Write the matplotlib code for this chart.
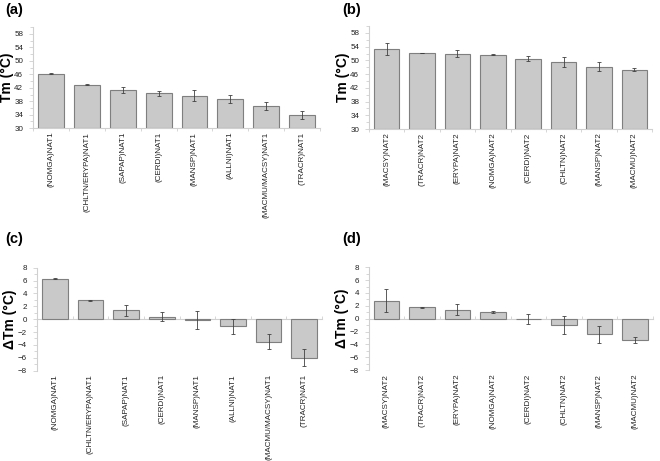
import matplotlib
matplotlib.use("Agg")
import matplotlib.pyplot as plt
from matplotlib.ticker import NullFormatter
import numpy as np

plt.rcParams['font.family'] = ['Liberation Sans', 'DejaVu Sans']

# Datos de los cuatro paneles
nat1_labels = ['(NOMGA)NAT1', '(CHLTN/ERYPA)NAT1', '(SAPAP)NAT1', '(CERDI)NAT1',
               '(MANSP)NAT1', '(ALLNI)NAT1', '(MACMU/MACSY)NAT1', '(TRACR)NAT1']
nat2_labels = ['(MACSY)NAT2', '(TRACR)NAT2', '(ERYPA)NAT2', '(NOMGA)NAT2',
               '(CERDI)NAT2', '(CHLTN)NAT2', '(MANSP)NAT2', '(MACMU)NAT2']

tm_nat1 = [46.2, 42.9, 41.3, 40.3, 39.7, 38.8, 36.5, 33.9]
tm_nat1_err = [0.1, 0.1, 0.9, 0.8, 1.6, 1.2, 1.2, 1.3]
tm_nat2 = [53.4, 52.2, 52.0, 51.6, 50.5, 49.6, 48.1, 47.3]
tm_nat2_err = [1.8, 0.1, 0.9, 0.15, 0.8, 1.4, 1.3, 0.4]

dtm_nat1 = [6.3, 2.95, 1.35, 0.4, -0.15, -1.1, -3.5, -6.0]
dtm_nat1_err = [0.1, 0.1, 0.9, 0.7, 1.4, 1.2, 1.2, 1.3]
dtm_nat2 = [2.8, 1.75, 1.4, 1.0, -0.1, -1.0, -2.45, -3.3]
dtm_nat2_err = [1.8, 0.05, 0.9, 0.15, 0.8, 1.4, 1.3, 0.4]

gris_eje = '#d0d0d0'


def dibujar_panel(fig, pos, etiquetas, valores, errores, letra, pos_letra,
                  ylabel, ylim, yticks, delta):
    ax = fig.add_axes(pos)
    x = np.arange(len(etiquetas))
    valores = np.array(valores)
    base = 0 if delta else ylim[0]  # en Tm las barras arrancan en 30
    ax.bar(x, valores - base, 0.72, bottom=base,
           color='#c9c9c9', edgecolor='#7f7f7f', linewidth=0.8, zorder=2)
    ax.errorbar(x, valores, yerr=errores, fmt='none',
                ecolor='#404040', elinewidth=0.6, capsize=1.5, capthick=0.6, zorder=3)
    ax.set_xlim(-0.5, len(etiquetas) - 0.5)
    ax.set_ylim(*ylim)
    ax.set_yticks(yticks)
    ax.set_yticks(np.arange(ylim[0], ylim[1] + 0.01, (yticks[1] - yticks[0]) / 2), minor=True)
    ax.set_xticks(x)
    ax.set_xticklabels(etiquetas, rotation=90, fontsize=5.8, color='#222222')
    ax.tick_params(axis='x', length=0, pad=2.5)
    ax.tick_params(axis='y', which='both', labelsize=5.8, colors=gris_eje,
                   labelcolor='#222222', length=3, width=0.6, pad=4)
    ax.tick_params(axis='y', which='minor', length=2)
    for s in ['top', 'right', 'bottom']:
        ax.spines[s].set_visible(False)
    ax.spines['left'].set_color(gris_eje)
    ax.spines['left'].set_linewidth(0.8)

    # linea horizontal con marcas entre categorias (en 0 para los paneles delta)
    sec = ax.secondary_xaxis(0.5 if delta else 0.0)
    for s in sec.spines.values():
        s.set_color(gris_eje)
        s.set_linewidth(0.8)
    sec.set_xticks(np.arange(-0.5, len(etiquetas)))
    sec.xaxis.set_major_formatter(NullFormatter())
    sec.tick_params(axis='x', length=2, width=0.6, colors=gris_eje)

    ax.set_ylabel(ylabel, fontsize=10, fontweight='bold', labelpad=0.5)
    fig.text(pos_letra[0], pos_letra[1], letra, fontsize=10.5, fontweight='bold', va='top')
    return ax


fig = plt.figure(figsize=(6.6, 4.61), dpi=100)

dibujar_panel(fig, [0.05, 0.722, 0.435, 0.219], nat1_labels, tm_nat1, tm_nat1_err,
              '(a)', (0.008, 0.993), 'Tm (°C)', (30, 60), np.arange(30, 59, 4), False)
dibujar_panel(fig, [0.559, 0.720, 0.429, 0.2234], nat2_labels, tm_nat2, tm_nat2_err,
              '(b)', (0.518, 0.993), 'Tm (°C)', (30, 60), np.arange(30, 59, 4), False)
dibujar_panel(fig, [0.056, 0.196, 0.432, 0.2234], nat1_labels, dtm_nat1, dtm_nat1_err,
              '(c)', (0.008, 0.497), 'ΔTm (°C)', (-8, 8), np.arange(-8, 9, 2), True)
dibujar_panel(fig, [0.5587, 0.197, 0.43, 0.2234], nat2_labels, dtm_nat2, dtm_nat2_err,
              '(d)', (0.518, 0.497), 'ΔTm (°C)', (-8, 8), np.arange(-8, 9, 2), True)

plt.savefig('out.png', dpi=100)
